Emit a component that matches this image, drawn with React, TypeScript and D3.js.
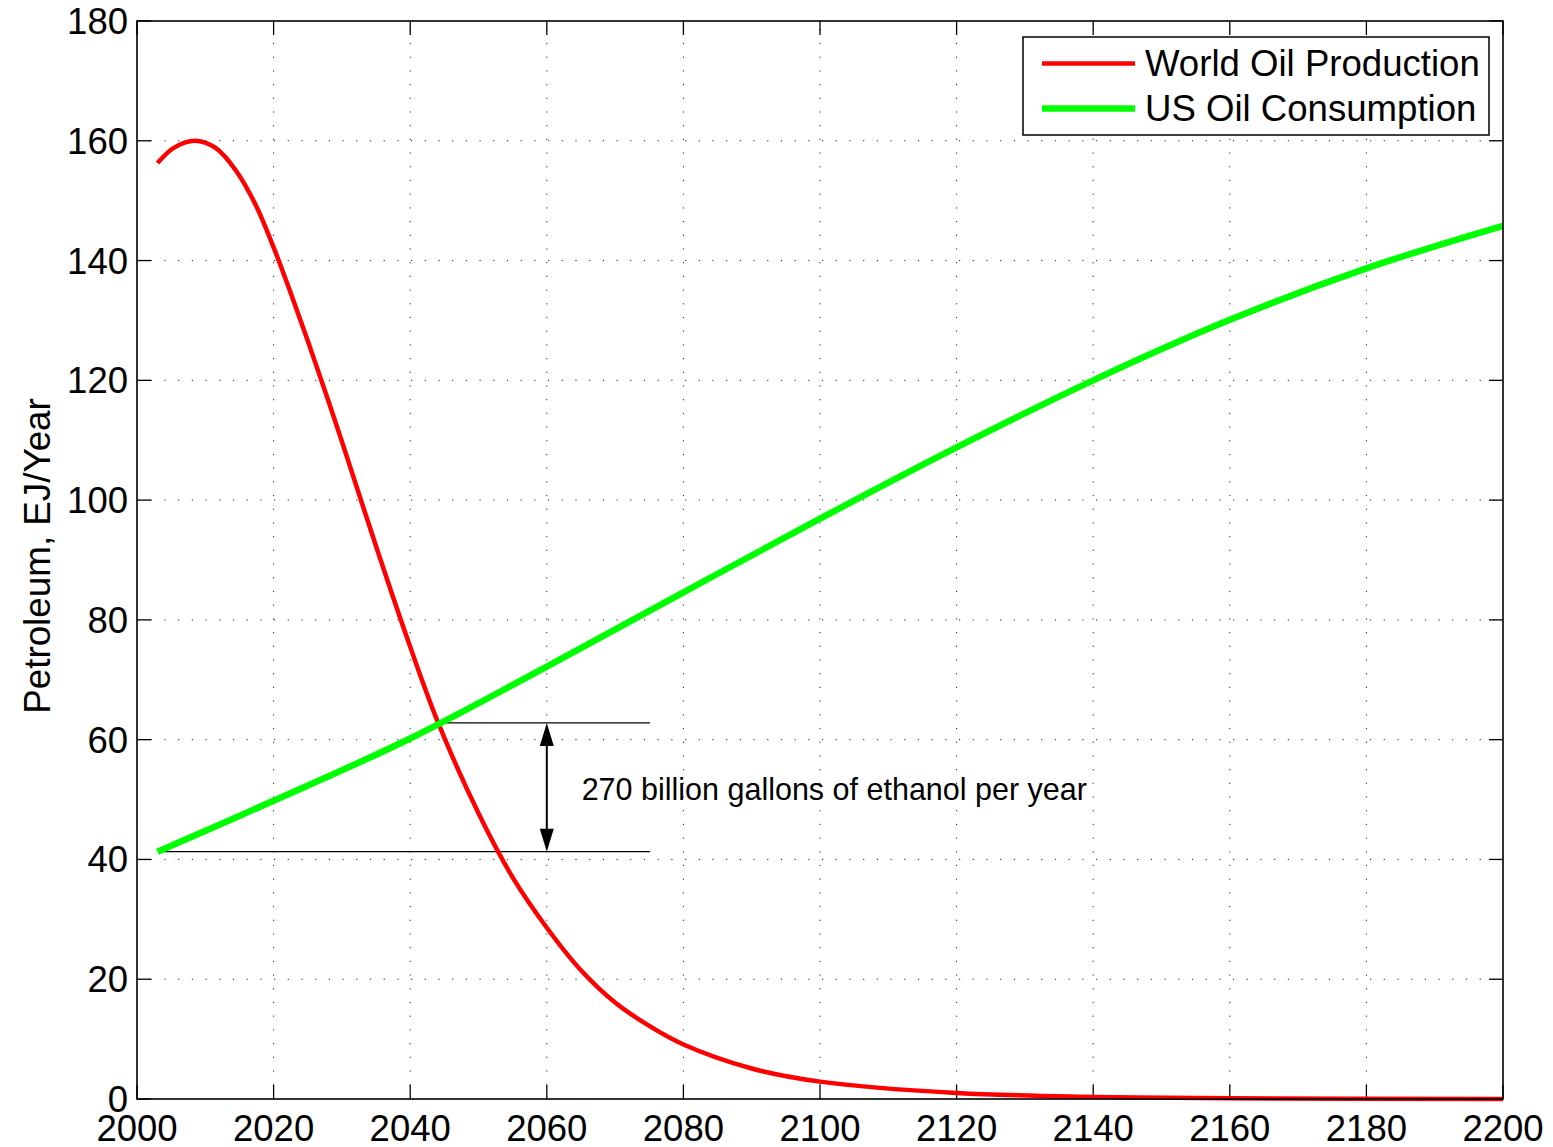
import * as d3 from 'd3';
import React from 'react';

// world oil production (EJ/year)
const prodYears = [2003, 2005.5, 2008.5, 2011.5, 2014.5, 2017.5, 2020, 2022.5, 2025, 2027.5, 2030, 2035, 2040, 2044.1, 2050, 2055, 2060, 2065, 2070, 2075, 2080, 2090, 2100, 2120, 2140, 2160, 2200];
const prodValues = [156.3, 158.9, 160, 158.8, 155, 149, 142.2, 134.6, 126.6, 118.3, 109.8, 92.3, 75.5, 62.8, 47.7, 37, 28.6, 21.5, 16.1, 12.2, 9.1, 5.1, 2.9, 1.0, 0.35, 0.12, 0.02];

// US oil consumption (EJ/year)
const consYears = [2003, 2020, 2040, 2060, 2080, 2100, 2120, 2140, 2160, 2180, 2200];
const consValues = [41.3, 49.8, 60.2, 72.2, 84.6, 96.9, 108.8, 120, 130.1, 138.7, 145.8];

const xTicks = [2000, 2020, 2040, 2060, 2080, 2100, 2120, 2140, 2160, 2180, 2200];
const yTicks = [0, 20, 40, 60, 80, 100, 120, 140, 160, 180];

const seriesNames = ['World Oil Production', 'US Oil Consumption'];
const seriesColors = ['#ff0000', '#00ff00'];

// the ethanol gap annotation
const gapTop = 62.8;
const gapBottom = 41.3;
const gapFrom = [2044.1, 2003.2];
const gapTo = 2075.1;
const arrowYear = 2060;
const gapLabel = '270 billion gallons of ethanol per year';

export default function App() {
  const W = 1553;
  const H = 1147;
  const left = 137, right = 1503, top = 21, bottom = 1099;

  const x = d3.scaleLinear().domain([2000, 2200]).range([left, right]);
  const y = d3.scaleLinear().domain([0, 180]).range([bottom, top]);

  const line = d3.line<[number, number]>()
    .x(d => x(d[0]))
    .y(d => y(d[1]))
    .curve(d3.curveCatmullRom.alpha(0.5));

  const prod = line(prodYears.map((yr, i) => [yr, prodValues[i]] as [number, number]));
  const cons = line(consYears.map((yr, i) => [yr, consValues[i]] as [number, number]));

  const font = 'Liberation Sans, Arial, Helvetica, sans-serif';
  const tickLen = 14;

  // arrow heads
  const ax = x(arrowYear);
  const yt = y(gapTop), yb = y(gapBottom);
  const headL = 23, headW = 7;
  const upHead = `M${ax},${yt} L${ax - headW},${yt + headL} L${ax + headW},${yt + headL} Z`;
  const downHead = `M${ax},${yb} L${ax - headW},${yb - headL} L${ax + headW},${yb - headL} Z`;

  return (
    <svg width={W} height={H} style={{ position: 'absolute', left: 0, top: 0, display: 'block', background: '#fff' }}>
      {/* grid */}
      <g stroke="#222" strokeWidth={1} strokeDasharray="1.2 12.5">
        {xTicks.slice(1, -1).map(t => (
          <line key={'gx' + t} x1={x(t)} x2={x(t)} y1={bottom} y2={top} />
        ))}
        {yTicks.slice(1, -1).map(t => (
          <line key={'gy' + t} x1={left} x2={right} y1={y(t)} y2={y(t)} />
        ))}
      </g>

      {/* ticks on all four sides, pointing in */}
      <g stroke="#000" strokeWidth={1.3}>
        {xTicks.map(t => (
          <g key={'tx' + t}>
            <line x1={x(t)} x2={x(t)} y1={bottom} y2={bottom - tickLen} />
            <line x1={x(t)} x2={x(t)} y1={top} y2={top + tickLen} />
          </g>
        ))}
        {yTicks.map(t => (
          <g key={'ty' + t}>
            <line x1={left} x2={left + tickLen} y1={y(t)} y2={y(t)} />
            <line x1={right} x2={right - tickLen} y1={y(t)} y2={y(t)} />
          </g>
        ))}
      </g>

      {/* annotation lines */}
      <g stroke="#000" strokeWidth={1.3}>
        <line x1={x(gapFrom[0])} x2={x(gapTo)} y1={yt} y2={yt} />
        <line x1={x(gapFrom[1])} x2={x(gapTo)} y1={yb} y2={yb} />
        <line x1={ax} x2={ax} y1={yt + headL - 2} y2={yb - headL + 2} strokeWidth={2} />
      </g>
      <path d={upHead} fill="#000" />
      <path d={downHead} fill="#000" />
      <text x={x(2065.1)} y={y(50)} fontFamily={font} fontSize={30.5} fill="#000">{gapLabel}</text>

      {/* series */}
      <path d={prod ?? ''} fill="none" stroke={seriesColors[0]} strokeWidth={4.5} strokeLinejoin="round" />
      <path d={cons ?? ''} fill="none" stroke={seriesColors[1]} strokeWidth={6.5} strokeLinejoin="round" />

      {/* axes box */}
      <rect x={left} y={top} width={right - left} height={bottom - top} fill="none" stroke="#000" strokeWidth={1.6} />

      {/* tick labels */}
      <g fontFamily={font} fontSize={36.5} fill="#000">
        {xTicks.map(t => (
          <text key={'lx' + t} x={x(t)} y={1141} textAnchor="middle">{t}</text>
        ))}
        {yTicks.map(t => (
          <text key={'ly' + t} x={128} y={y(t) + 13} textAnchor="end">{t}</text>
        ))}
      </g>

      <text transform={`translate(50, 556) rotate(-90)`} textAnchor="middle" fontFamily={font} fontSize={36.8} fill="#000">
        Petroleum, EJ/Year
      </text>

      {/* legend */}
      <g>
        <rect x={1023} y={37} width={466} height={98} fill="#fff" stroke="#000" strokeWidth={1.5} />
        {seriesNames.map((name, i) => (
          <g key={name}>
            <line x1={1042} x2={1135} y1={63.5 + i * 45} y2={63.5 + i * 45} stroke={seriesColors[i]} strokeWidth={i === 0 ? 4.5 : 6.5} />
            <text x={1145} y={76 + i * 45} fontFamily={font} fontSize={36.6} fill="#000">{name}</text>
          </g>
        ))}
      </g>
    </svg>
  );
}
